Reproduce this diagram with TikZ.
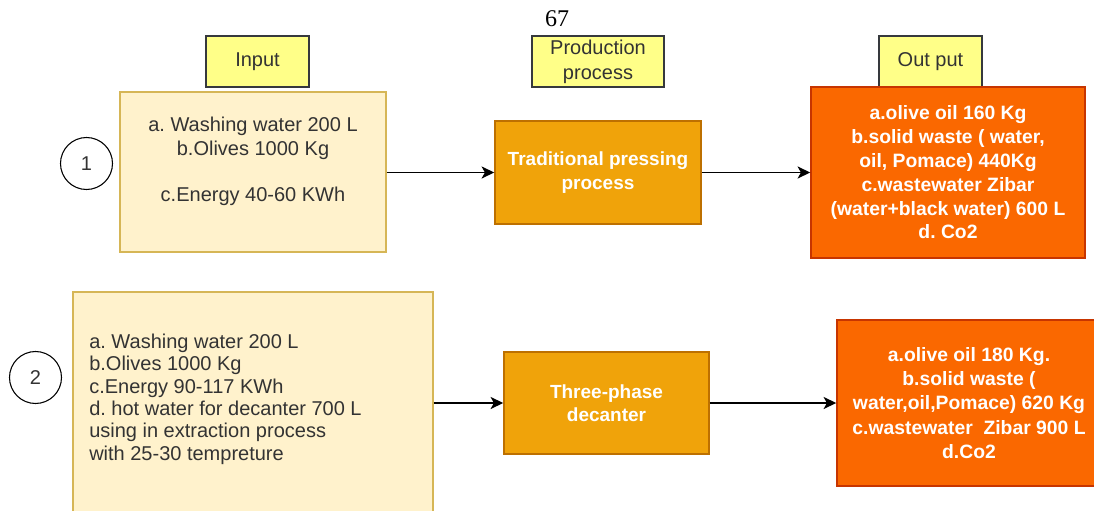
\documentclass[tikz,border=0pt]{standalone}
\usepackage{fontspec}
\setmainfont{Liberation Sans}
\newfontfamily\pagefont{Liberation Serif}
\usetikzlibrary{arrows.meta}
\definecolor{labfill}{HTML}{FFFF88}
\definecolor{labdraw}{HTML}{36393D}
\definecolor{infill}{HTML}{FFF2CC}
\definecolor{indraw}{HTML}{D6B656}
\definecolor{prfill}{HTML}{F0A30A}
\definecolor{prdraw}{HTML}{BD7000}
\definecolor{outfill}{HTML}{FA6800}
\definecolor{outdraw}{HTML}{C73500}
\definecolor{txt}{HTML}{333333}
\frenchspacing
\begin{document}
\begin{tikzpicture}[x=0.75pt,y=-0.75pt,
  box/.style={rectangle, inner sep=0pt, line width=1.1pt},
  labbox/.style={box, fill=labfill, draw=labdraw, minimum height=38.25pt, text=txt,
    font=\fontsize{15}{18.75}\selectfont, align=center},
  inbox/.style={box, fill=infill, draw=indraw},
  prbox/.style={box, fill=prfill, draw=prdraw, text=white,
    font=\bfseries\fontsize{14.25}{17.5}\selectfont, align=center},
  outbox/.style={box, fill=outfill, draw=outdraw, text=white, align=center},
  numc/.style={circle, draw=black, fill=white, line width=0.8pt, minimum size=39pt,
    inner sep=0pt, text=txt, font=\fontsize{15}{17}\selectfont},
  intext/.style={text=txt, inner sep=0pt},
  flow/.style={-{Stealth[length=9.5pt,width=9pt,inset=2.5pt]}, line width=1.3pt, draw=black},
]
\useasboundingbox (0,0) rectangle (1094,510);

% page number
\node[font=\pagefont\fontsize{18}{20}\selectfont] (pg) at (557,19) {67};

% column headers
\node[labbox, minimum width=77.25pt] (lab1) at (257.5,61.5) {Input};
\node[labbox, minimum width=99pt] (lab2) at (598,61.5) {Production\\process};
\node[labbox, minimum width=77.25pt] (lab3) at (930.5,61.5) {Out put};

% row 1
\node[numc] (c1) at (86.5,163.5) {1};
\node[inbox, minimum width=199.5pt, minimum height=120pt] (in1) at (253,172) {};
\node[intext, align=center, font=\fontsize{15}{17.5}\selectfont] (in1t) at (253,161.7)
  {a. Washing water 200 L\\ b.Olives 1000 Kg\\[17.5pt] c.Energy 40-60 KWh};
\node[prbox, minimum width=154.5pt, minimum height=77.25pt] (pr1) at (598,172.5)
  {Traditional pressing\\ process};
\node[outbox, minimum width=205.5pt, minimum height=128.25pt,
  font=\bfseries\fontsize{14.5}{17.85}\selectfont] (out1) at (948,172.5)
  {a.olive oil 160 Kg\\ b.solid waste ( water,\\ oil, Pomace) 440Kg\\ c.wastewater Zibar\\ (water+black water) 600 L\\ d. Co2};

% row 2
\node[numc] (c2) at (35.5,377.5) {2};
\node[inbox, minimum width=270pt, minimum height=167.25pt] (in2) at (253,403.5) {};
\node[intext, anchor=west, align=left, font=\fontsize{15}{16.75}\selectfont] (in2t) at (89,399)
  {a. Washing water 200 L\\ b.Olives 1000 Kg\\ c.Energy 90-117 KWh\\ d. hot water for decanter 700 L\\ using in extraction process\\ with 25-30 tempreture};
\node[prbox, minimum width=153.75pt, minimum height=76.5pt] (pr2) at (606.5,403)
  {Three-phase\\ decanter};
\node[outbox, minimum width=198pt, minimum height=124.5pt,
  font=\bfseries\fontsize{14.5}{18.15}\selectfont] (out2) at (969,403)
  {a.olive oil 180 Kg.\\ b.solid waste (\\ water,oil,Pomace) 620 Kg\\ c.wastewater\ \ Zibar 900 L\\ d.Co2};

% connectors
\draw[flow] (in1.east |- pr1.west) -- (pr1.west);
\draw[flow] (pr1.east) -- (out1.west |- pr1.east);
\draw[flow] (in2.east |- pr2.west) -- (pr2.west);
\draw[flow] (pr2.east) -- (out2.west |- pr2.east);
\end{tikzpicture}
\end{document}
